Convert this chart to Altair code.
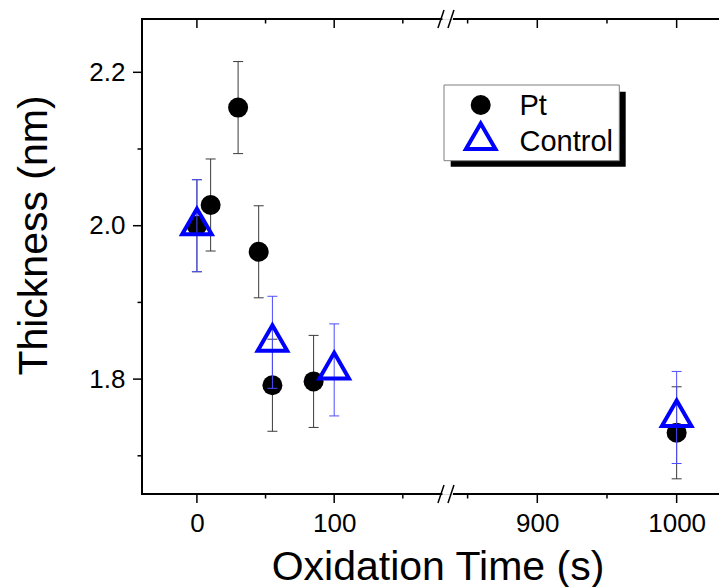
import altair as alt
import pandas as pd

# ---------------- data ----------------
pt_time = [0, 10, 30, 45, 55, 85, 1000]
pt_thick = [2.000, 2.027, 2.154, 1.966, 1.792, 1.797, 1.730]
pt_err = [0.06, 0.06, 0.06, 0.06, 0.06, 0.06, 0.06]

ctrl_time = [0, 55, 100, 1000]
ctrl_thick = [2.000, 1.848, 1.812, 1.750]
ctrl_err = [0.06, 0.06, 0.06, 0.06]

series_names = ["Pt", "Control"]

x_major = [0, 100, 900, 1000]
x_minor = [50, 150, 850, 950]
y_major = [1.8, 2.0, 2.2]
y_minor = [1.7, 1.9, 2.1]

# broken x axis: piecewise scale
x_domain = [-40, 184, 837, 1039]
y_domain = [1.6502, 2.2695]
spine_from = [-40, 840.2]
spine_to = [178.1, 1039]
slash_from = [175.6, 182.9]
slash_to = [180.0, 840.2]

W, H = 589, 475
FONT = "Liberation Sans"

pt = pd.DataFrame({"time": pt_time, "thick": pt_thick, "err": pt_err})
pt["lo"] = pt["thick"] - pt["err"]
pt["hi"] = pt["thick"] + pt["err"]
ct = pd.DataFrame({"time": ctrl_time, "thick": ctrl_thick, "err": ctrl_err})
ct["lo"] = ct["thick"] - ct["err"]
ct["hi"] = ct["thick"] + ct["err"]

xscale = alt.Scale(domain=x_domain, range=[0, 307.5, 307.5, W], zero=False, nice=False)
yscale = alt.Scale(domain=y_domain, zero=False, nice=False)

xaxis = alt.Axis(
    values=x_major + x_minor, format="d",
    labelExpr="datum.value % 100 == 0 ? datum.label : ''",
    ticks=False, tickSize=0, domain=False, grid=False,
    labelFont=FONT, labelFontSize=26, labelColor="black", labelPadding=16,
    labelOverlap=False, labelFlush=False,
    titleFont=FONT, titleFontSize=41, titleFontWeight="normal", titleColor="black",
    titleX=295.5, titleY=85, titleBaseline="alphabetic", titleAlign="center",
)
yaxis = alt.Axis(
    values=y_major + y_minor,
    labelExpr="round(datum.value * 10) % 2 == 0 ? format(datum.value, '.1f') : ''",
    ticks=False, tickSize=0, domain=False, grid=False,
    labelFont=FONT, labelFontSize=26, labelColor="black", labelPadding=17,
    labelOverlap=False, labelFlush=False,
    titleFont=FONT, titleFontSize=41, titleFontWeight="normal", titleColor="black",
    titleX=-96, titleY=216, titleBaseline="alphabetic", titleAlign="center", titleAngle=270,
)

XT = "Oxidation Time (s)"
YT = "Thickness (nm)"


def X(f):
    return alt.X(f"{f}:Q", scale=xscale, axis=xaxis, title=XT)


def Y(f):
    return alt.Y(f"{f}:Q", scale=yscale, axis=yaxis, title=YT)


one = pd.DataFrame({"k": [0]})
segs = pd.DataFrame({"a": spine_from, "b": spine_to})
slashes = pd.DataFrame({"a": slash_from, "b": slash_to})
xmaj = pd.DataFrame({"t": x_major})
xmin = pd.DataFrame({"t": x_minor})
ymaj = pd.DataFrame({"v": y_major})
ymin = pd.DataFrame({"v": y_minor})
leg = pd.DataFrame({"name": series_names})

layers = []

# error bars Pt
PT_BAR = "#3a3a3a"
layers.append(alt.Chart(pt).mark_rule(color=PT_BAR, strokeWidth=1).encode(x=X("time"), y=Y("lo"), y2="hi"))
for f in ["lo", "hi"]:
    layers.append(alt.Chart(pt).mark_tick(orient="horizontal", size=10, thickness=1, color=PT_BAR, opacity=1)
                  .encode(x=X("time"), y=Y(f)))
layers.append(alt.Chart(pt).mark_point(shape="circle", filled=True, size=400, color="black", opacity=1)
              .encode(x=X("time"), y=Y("thick")))

# error bars Control
CT_BAR = "#4d4dff"
layers.append(alt.Chart(ct).mark_rule(color=CT_BAR, strokeWidth=1).encode(x=X("time"), y=Y("lo"), y2="hi"))
for f in ["lo", "hi"]:
    layers.append(alt.Chart(ct).mark_tick(orient="horizontal", size=10, thickness=1, color=CT_BAR, opacity=1)
                  .encode(x=X("time"), y=Y(f)))
TRI = "M0,-1.1547L1,0.5774L-1,0.5774Z"
layers.append(alt.Chart(ct).mark_point(shape=TRI, filled=False, size=870, stroke="#0000ff",
                                      strokeWidth=4, opacity=1, strokeJoin="miter")
              .encode(x=X("time"), y=Y("thick")))

# frame
layers.append(alt.Chart(one).mark_rule(color="black", strokeWidth=2, strokeCap="square")
              .encode(x=alt.value(0), y=alt.value(0), y2=alt.value(H)))
layers.append(alt.Chart(one).mark_rule(color="black", strokeWidth=2, strokeCap="square")
              .encode(x=alt.value(W), y=alt.value(0), y2=alt.value(H)))
for yy in [0, H]:
    layers.append(alt.Chart(segs).mark_rule(color="black", strokeWidth=2, strokeCap="square")
                  .encode(x=X("a"), x2="b", y=alt.value(yy)))
    layers.append(alt.Chart(slashes).mark_rule(color="black", strokeWidth=1.5)
                  .encode(x=X("a"), x2="b", y=alt.value(yy + 9), y2=alt.value(yy - 9)))

# ticks: bottom (out), top (in), left (out), right (in)
for df, ln in [(xmaj, 9), (xmin, 4.5)]:
    layers.append(alt.Chart(df).mark_rule(color="black", strokeWidth=1.5)
                  .encode(x=X("t"), y=alt.value(H), y2=alt.value(H + ln)))
    layers.append(alt.Chart(df).mark_rule(color="black", strokeWidth=1.5)
                  .encode(x=X("t"), y=alt.value(0), y2=alt.value(ln)))
for df, ln in [(ymaj, 9), (ymin, 4.5)]:
    layers.append(alt.Chart(df).mark_rule(color="black", strokeWidth=1.5)
                  .encode(y=Y("v"), x=alt.value(0), x2=alt.value(-ln)))
    layers.append(alt.Chart(df).mark_rule(color="black", strokeWidth=1.5)
                  .encode(y=Y("v"), x=alt.value(W), x2=alt.value(W - ln)))

# legend
layers.append(alt.Chart(one).mark_rect(color="black")
              .encode(x=alt.value(308.7), x2=alt.value(483.7), y=alt.value(72.7), y2=alt.value(147.7)))
layers.append(alt.Chart(one).mark_rect(fill="white", stroke="#7f7f7f", strokeWidth=1)
              .encode(x=alt.value(302), x2=alt.value(477.3), y=alt.value(66), y2=alt.value(141.7)))
layers.append(alt.Chart(one).mark_point(shape="circle", filled=True, size=400, color="black", opacity=1)
              .encode(x=alt.value(338.7), y=alt.value(86)))
layers.append(alt.Chart(one).mark_point(shape=TRI, filled=False, size=870, stroke="#0000ff",
                                       strokeWidth=4, opacity=1, strokeJoin="miter")
              .encode(x=alt.value(338.7), y=alt.value(121.5)))
layers.append(alt.Chart(leg).transform_filter(alt.datum.name == series_names[0])
              .mark_text(align="left", baseline="alphabetic", font=FONT, fontSize=29, color="black")
              .encode(x=alt.value(377.5), y=alt.value(95.5), text="name:N"))
layers.append(alt.Chart(leg).transform_filter(alt.datum.name == series_names[1])
              .mark_text(align="left", baseline="alphabetic", font=FONT, fontSize=29, color="black")
              .encode(x=alt.value(377.5), y=alt.value(131.5), text="name:N"))

chart = alt.layer(*layers).properties(
    width=W, height=H,
    autosize=alt.AutoSizeParams(type="none"),
    padding={"left": 134, "top": 11, "right": -12, "bottom": 93},
).configure_view(stroke=None).configure(background="white")

chart.save("out.html", embed_options={"renderer": "svg", "actions": False})
